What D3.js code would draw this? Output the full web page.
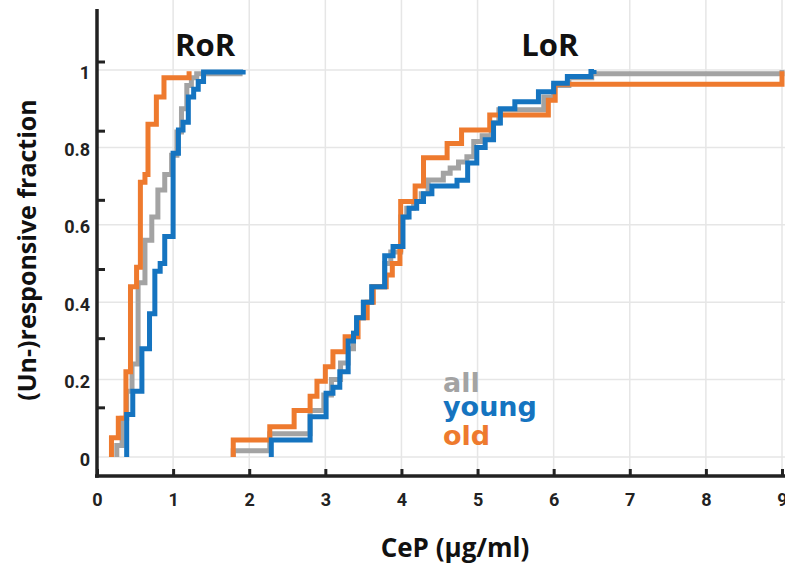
<!DOCTYPE html>
<html>
<head>
<meta charset="utf-8">
<script src="https://cdn.jsdelivr.net/npm/d3@7"></script>
<style>
  html, body { margin: 0; padding: 0; background: #fff; }
  svg { display: block; }
</style>
</head>
<body>
<svg id="chart" width="785" height="564"></svg>
<script>
// ---------------- data ----------------
const xTickValues = [0, 1, 2, 3, 4, 5, 6, 7, 8, 9];
const yTickValues = [0, 0.2, 0.4, 0.6, 0.8, 1];
const yTickLabels = ["0", "0.2", "0.4", "0.6", "0.8", "1"];
const yAxisMarkIndex = [1, 2, 3, 4, 5, 6];   // tick marks drawn on the y axis line (own spacing)

const seriesNames = ["all", "old", "young"];
const seriesColors = { all: "#a3a3a3", old: "#ee7a2e", young: "#1574c0" };

// RoR (responders) step curves: [CeP, cumulative fraction]
const rorAll = [[0.26,0],[0.26,0.03],[0.33,0.10],[0.39,0.17],[0.46,0.24],[0.54,0.45],[0.63,0.56],[0.72,0.62],
  [0.80,0.69],[0.89,0.73],[0.98,0.78],[1.05,0.84],[1.11,0.90],[1.18,0.96],[1.24,0.98],[1.31,0.99],[1.88,1.0]];
const rorOld = [[0.19,0],[0.19,0.05],[0.28,0.10],[0.38,0.22],[0.44,0.44],[0.52,0.49],[0.57,0.71],[0.63,0.73],
  [0.67,0.86],[0.78,0.93],[0.88,0.98],[1.21,0.997]];
const rorYoung = [[0.39,0],[0.39,0.11],[0.47,0.17],[0.59,0.28],[0.69,0.37],[0.76,0.48],[0.83,0.50],[0.89,0.57],
  [1.00,0.785],[1.07,0.845],[1.13,0.865],[1.20,0.93],[1.27,0.95],[1.33,0.97],[1.40,0.995],[1.92,1.0]];

// LoR (loss of response) step curves
const lorAll = [[1.79,0],[1.79,0.016],[2.27,0.06],[2.80,0.12],[2.98,0.16],[3.08,0.20],[3.20,0.243],[3.30,0.28],
  [3.37,0.32],[3.42,0.36],[3.50,0.40],[3.61,0.44],[3.78,0.50],[3.86,0.53],[3.99,0.62],[4.07,0.643],[4.16,0.66],
  [4.26,0.68],[4.35,0.716],[4.55,0.733],[4.64,0.747],[4.75,0.762],[4.86,0.776],[4.95,0.815],[5.06,0.83],
  [5.18,0.863],[5.28,0.897],[5.87,0.93],[6.0,0.96],[6.2,0.98],[6.5,0.99],[9.0,1.0]];
const lorOld = [[1.79,0],[1.79,0.044],[2.27,0.078],[2.59,0.12],[2.80,0.157],[2.89,0.196],[3.00,0.233],[3.10,0.272],
  [3.26,0.311],[3.43,0.36],[3.55,0.40],[3.63,0.44],[3.80,0.47],[3.88,0.50],[3.98,0.535],[3.99,0.66],[4.18,0.70],
  [4.29,0.773],[4.60,0.81],[4.79,0.845],[5.16,0.884],[5.93,0.922],[6.02,0.963],[9.0,0.997]];
const lorYoung = [[2.29,0],[2.29,0.044],[2.80,0.104],[3.01,0.165],[3.10,0.18],[3.19,0.22],[3.30,0.30],[3.37,0.32],
  [3.41,0.36],[3.50,0.40],[3.61,0.44],[3.78,0.52],[3.89,0.544],[4.02,0.62],[4.10,0.643],[4.20,0.66],[4.29,0.68],
  [4.40,0.70],[4.73,0.715],[4.87,0.76],[4.99,0.80],[5.10,0.82],[5.21,0.863],[5.30,0.90],[5.49,0.918],[5.80,0.944],
  [6.0,0.966],[6.18,0.983],[6.49,0.996],[6.53,1.0]];

const groupLabels = [{ text: "RoR", x: 1.42 }, { text: "LoR", x: 5.95 }];
const legendEntries = ["all", "young", "old"];

// ---------------- drawing ----------------
const svg = d3.select("#chart");
svg.append("rect").attr("width", 785).attr("height", 564).attr("fill", "#fff");

const x = d3.scaleLinear().domain([0, 9]).range([97, 782]);
const y = d3.scaleLinear().domain([0, 1]).range([457, 70]);
const axisY = 476;   // x axis line position
const yMarks = d3.scaleLinear().domain([0, 6]).range([477, 62]);

// grid
const grid = svg.append("g").attr("stroke", "#e6e6e6").attr("stroke-width", 1.5);
grid.selectAll("line.v").data(xTickValues.filter(d => d > 0)).join("line")
  .attr("x1", d => x(d)).attr("x2", d => x(d)).attr("y1", 0).attr("y2", axisY);
grid.selectAll("line.h").data(yTickValues).join("line")
  .attr("x1", 97).attr("x2", 785).attr("y1", d => y(d)).attr("y2", d => y(d));

// curves
const line = d3.line().x(d => x(d[0])).y(d => y(d[1])).curve(d3.curveStepAfter);
const curves = [
  { key: "all", data: rorAll }, { key: "all", data: lorAll },
  { key: "old", data: rorOld }, { key: "old", data: lorOld },
  { key: "young", data: rorYoung }, { key: "young", data: lorYoung }
];
svg.append("g").selectAll("path").data(curves).join("path")
  .attr("d", d => line(d.data))
  .attr("fill", "none")
  .attr("stroke", d => seriesColors[d.key])
  .attr("stroke-width", 5)
  .attr("stroke-linejoin", "miter")
  .attr("stroke-linecap", "butt");

// x axis
const xAxis = d3.axisBottom(x).tickValues(xTickValues).tickSize(-7).tickSizeOuter(0).tickPadding(17);
const gx = svg.append("g").attr("transform", `translate(0,${axisY})`).call(xAxis);
gx.select(".domain").remove();
gx.selectAll(".tick line").attr("stroke", "#222").attr("stroke-width", 3);
gx.selectAll(".tick text").attr("fill", "#222")
  .attr("font-family", "Roboto, sans-serif").attr("font-weight", "bold").attr("font-size", 18);
svg.append("line").attr("x1", 95).attr("x2", 785).attr("y1", axisY).attr("y2", axisY)
  .attr("stroke", "#222").attr("stroke-width", 3.5);

// y axis
const yAxis = d3.axisLeft(y).tickValues(yTickValues).tickFormat((d, i) => yTickLabels[i]).tickSize(0).tickPadding(7);
const gy = svg.append("g").attr("transform", "translate(97,0)").call(yAxis);
gy.select(".domain").remove();
gy.selectAll(".tick text").attr("fill", "#222").attr("dy", "0.45em")
  .attr("font-family", "Roboto, sans-serif").attr("font-weight", "bold").attr("font-size", 18);
svg.append("line").attr("x1", 97).attr("x2", 97).attr("y1", 9).attr("y2", axisY + 1.75)
  .attr("stroke", "#222").attr("stroke-width", 3.5);
svg.append("g").selectAll("line").data(yAxisMarkIndex).join("line")
  .attr("x1", 97).attr("x2", 105).attr("y1", d => yMarks(d)).attr("y2", d => yMarks(d))
  .attr("stroke", "#222").attr("stroke-width", 3);

// axis titles
svg.append("text").attr("x", 455).attr("y", 557).attr("text-anchor", "middle")
  .attr("font-family", "'Open Sans', sans-serif").attr("font-weight", "bold").attr("font-size", 26)
  .attr("fill", "#111").text("CeP (µg/ml)");
svg.append("text").attr("transform", "translate(36,250) rotate(-90)").attr("text-anchor", "middle")
  .attr("font-family", "'Open Sans', sans-serif").attr("font-weight", "bold").attr("font-size", 25)
  .attr("fill", "#111").text("(Un-)responsive fraction");

// group labels
svg.append("g").selectAll("text").data(groupLabels).join("text")
  .attr("x", d => x(d.x)).attr("y", 56).attr("text-anchor", "middle")
  .attr("font-family", "'Open Sans', sans-serif").attr("font-weight", "bold").attr("font-size", 31)
  .attr("fill", "#111").text(d => d.text);

// legend
const legendBaselines = [392, 416, 445];
svg.append("g").selectAll("text").data(legendEntries).join("text")
  .attr("x", 443).attr("y", (d, i) => legendBaselines[i])
  .attr("font-family", "'DejaVu Sans', sans-serif").attr("font-weight", "bold").attr("font-size", 27)
  .attr("fill", d => seriesColors[d]).text(d => d);
</script>
</body>
</html>
